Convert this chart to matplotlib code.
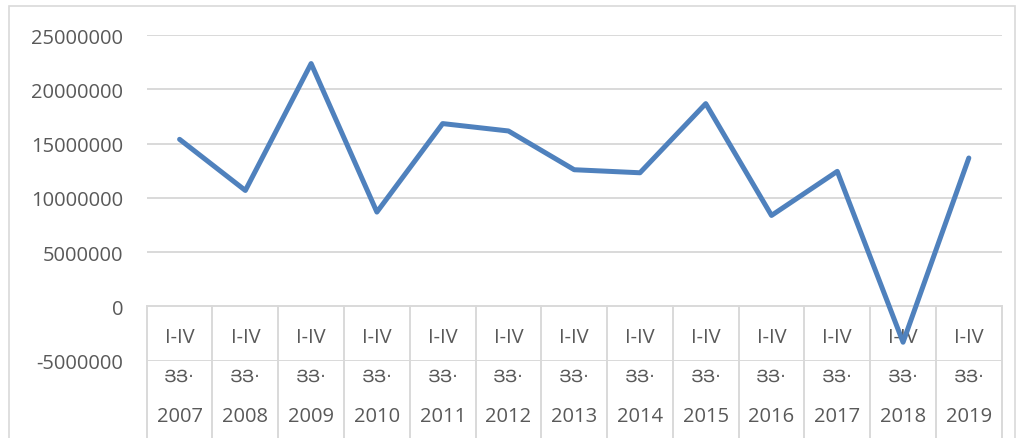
import matplotlib.pyplot as plt
from matplotlib.patches import Rectangle
import numpy as np

years = ['2007', '2008', '2009', '2010', '2011', '2012', '2013',
         '2014', '2015', '2016', '2017', '2018', '2019']
period = 'I-IV'
unit = 'ՅՅ·'
values = [15390000, 10680000, 22370000, 8690000, 16840000, 16160000, 12590000,
          12310000, 18680000, 8380000, 12440000, -3300000, 13670000]
yticks = [-5000000, 0, 5000000, 10000000, 15000000, 20000000, 25000000]

plt.rcParams['font.family'] = ['Open Sans', 'DejaVu Sans']
grid_c = '#d9d9d9'
text_c = '#595959'

fig = plt.figure(figsize=(10.2, 4.39), dpi=100)
ax = fig.add_axes([146.7/1020, 1-361.7/439, (1001.7-146.7)/1020, (361.7-36)/439])

x = np.arange(len(years))
ax.plot(x, values, color='#4F81BD', linewidth=3.6, solid_joinstyle='round',
        solid_capstyle='round', zorder=5, clip_on=False)

ax.set_xlim(-0.5, len(years)-0.5)
ax.set_ylim(-5000000, 25000000)
ax.set_yticks(yticks)
ax.set_yticklabels([str(t) for t in yticks], fontsize=14.5, color=text_c)
ax.tick_params(axis='y', length=0, pad=17)
ax.set_xticks([])
ax.yaxis.grid(True, color=grid_c, linewidth=1.4)
ax.set_axisbelow(True)
for s in ax.spines.values():
    s.set_visible(False)

# category table below the zero line
bottom = -12500000
for k in range(len(years)+1):
    ax.plot([k-0.5, k-0.5], [0, bottom], color=grid_c, linewidth=1.4, clip_on=False)
for i, yr in enumerate(years):
    ax.text(i, -2800000, period, ha='center', va='center', fontsize=14.5, color=text_c)
    ax.text(i, -6350000, unit, ha='center', va='center', fontsize=12.5,
            color=text_c, family='DejaVu Sans')
    ax.text(i, -10100000, yr, ha='center', va='center', fontsize=14.5, color=text_c)

# outer chart border
fig.patches.append(Rectangle((9/1020, -0.05), (1015-9)/1020, 1.05-7/439,
                             transform=fig.transFigure, fill=False,
                             edgecolor=grid_c, linewidth=1.2))

plt.savefig('out.png', dpi=100)
plt.close()
